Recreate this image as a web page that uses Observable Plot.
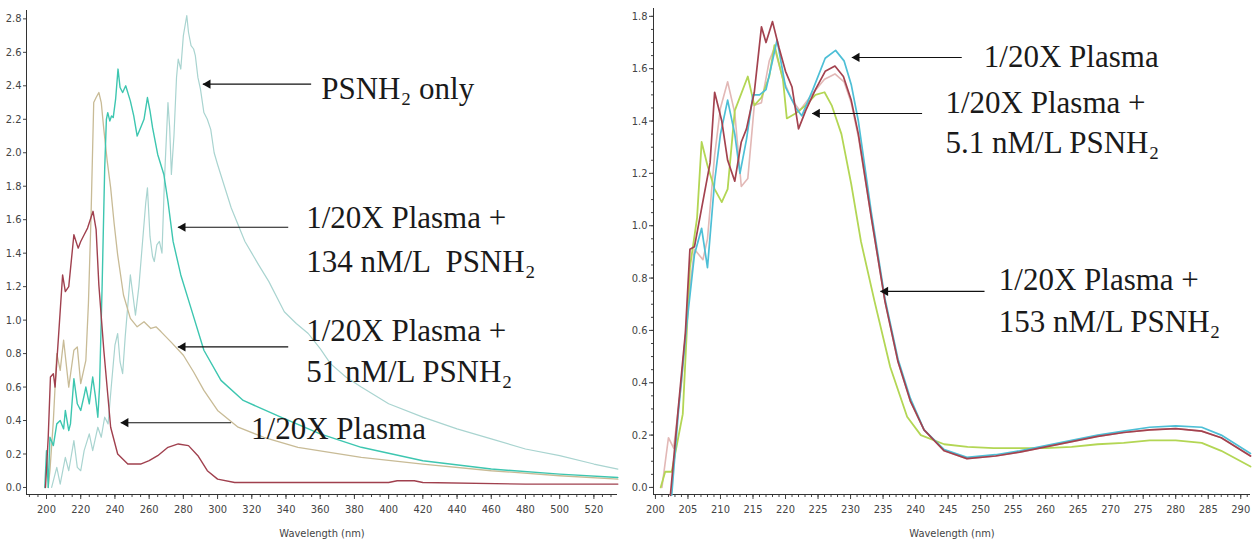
<!DOCTYPE html>
<html><head><meta charset="utf-8">
<script src="https://cdn.jsdelivr.net/npm/d3@7"></script>
<script src="https://cdn.jsdelivr.net/npm/@observablehq/plot@0.6"></script>
<style>
body{margin:0;background:#fff;}
#wrap{position:relative;width:1252px;height:546px;overflow:hidden;background:#fff;}
#left{position:absolute;left:0;top:0;}
#right{position:absolute;left:620px;top:0;}
</style></head><body><div id="wrap"><div id="left"></div><div id="right"></div></div>
<script>
// ---------- LEFT PANEL DATA (wavelength nm, absorbance) ----------
const leftPsnhOnly = [[203,0],[206,0.12],[208,0.02],[211,0.18],[213,0.1],[216,0.28],[218,0.12],[220,0.1],[222,0.22],[225,0.32],[227,0.22],[230,0.36],[232,0.3],[234,0.42],[236,0.38],[238,0.62],[240,0.85],[241.6,0.92],[243,0.75],[244.5,0.68],[246,0.9],[249,1.27],[250.5,1.15],[252,1.03],[254,1.2],[256,1.45],[258,1.7],[259,1.79],[260.5,1.5],[262,1.38],[263,1.35],[264.5,1.45],[266,1.47],[267.5,1.4],[269,1.85],[271,2.3],[272,2.15],[273,1.87],[274.5,2.1],[276,2.45],[277,2.56],[278.5,2.5],[280,2.7],[282,2.82],[283,2.72],[284.5,2.64],[286,2.62],[287,2.58],[288.5,2.45],[290,2.38],[292,2.24],[294,2.2],[296,2.14],[298,2.0],[300,1.93],[304,1.8],[308,1.67],[312,1.57],[316,1.47],[320,1.4],[324,1.33],[330,1.23],[339,1.05],[346,0.98],[353,0.92],[360,0.83],[366,0.74],[375,0.66],[384,0.6],[400,0.5],[420,0.42],[440,0.35],[460,0.29],[480,0.23],[500,0.19],[520,0.14],[534,0.11]];
const left134nM = [[199,0],[200,0.22],[201,0.0],[202,0.3],[204,0.25],[206,0.38],[208,0.4],[210,0.35],[211,0.46],[213,0.34],[214,0.38],[216,0.65],[218,0.5],[220,0.46],[222,0.55],[223,0.6],[225,0.5],[227,0.66],[228.5,0.55],[230,0.42],[231,0.6],[232.5,1.2],[234,1.9],[235,2.2],[235.8,2.24],[237,2.19],[238,2.22],[239,2.21],[240.4,2.32],[241.8,2.5],[243,2.39],[244.5,2.36],[246.3,2.4],[249,2.31],[251,2.22],[253,2.1],[255,2.15],[257,2.2],[259,2.33],[260.5,2.25],[262,2.15],[265,1.99],[268.6,1.87],[271,1.71],[274,1.47],[278.5,1.27],[284.5,1.07],[292,0.82],[302,0.64],[315,0.52],[337,0.42],[360,0.32],[384,0.24],[420,0.16],[460,0.11],[500,0.08],[534,0.06]];
const left51nM = [[201,0],[202,0.1],[204,0.4],[206,0.8],[208,0.7],[210,0.88],[213,0.6],[216,0.82],[218,0.84],[220,0.62],[223,0.76],[224.5,1.1],[226,1.61],[227.6,2.3],[229,2.33],[230.6,2.36],[232,2.3],[233.5,2.14],[235.5,1.95],[237.5,1.79],[239.5,1.58],[241.6,1.39],[245,1.15],[249,1.01],[253,0.96],[257,0.99],[261,0.95],[264,0.96],[267,0.93],[272.7,0.87],[280,0.79],[286,0.69],[292,0.58],[300,0.46],[312,0.36],[327,0.3],[347,0.24],[384,0.18],[420,0.14],[460,0.1],[500,0.07],[534,0.05]];
const leftPlasma = [[199.4,0],[201,0.3],[202.3,0.66],[204,0.68],[205,0.6],[207,0.9],[209.4,1.27],[211,1.17],[213,1.2],[216,1.51],[218.5,1.43],[220,1.47],[222,1.51],[224,1.55],[227.2,1.65],[229,1.54],[230.6,1.21],[233.5,0.82],[237.5,0.36],[241.6,0.2],[247.5,0.14],[255,0.14],[260,0.16],[265,0.19],[271,0.24],[277,0.26],[283,0.25],[288.5,0.19],[294,0.1],[300,0.05],[310,0.03],[360,0.03],[400,0.03],[405,0.04],[415,0.04],[420,0.03],[480,0.02],[534,0.02]];

// ---------- RIGHT PANEL DATA ----------
const rightMaroon = [[202.3,-0.03],[203.5,0.3],[204.6,0.59],[205.3,0.91],[206,0.92],[208.4,1.24],[209.1,1.51],[210.2,1.4],[211.1,1.25],[212.2,1.17],[213.2,1.32],[214,1.37],[215.2,1.51],[216.3,1.76],[217,1.7],[218,1.78],[219,1.68],[220,1.59],[221,1.53],[222,1.37],[223.1,1.44],[224.6,1.52],[226.1,1.59],[227.6,1.61],[228.9,1.57],[230.1,1.48],[231.2,1.35],[233.2,1.03],[235.3,0.71],[237.3,0.48],[239.2,0.33],[241.3,0.22],[244.4,0.14],[247.9,0.11],[252.3,0.12],[256,0.135],[260,0.155],[264,0.175],[268,0.195],[272,0.21],[276,0.22],[280,0.225],[284,0.215],[287,0.19],[291.5,0.12]];
const rightCyan = [[202.5,-0.03],[203.5,0.28],[204.8,0.62],[206,0.89],[207.1,0.99],[208,0.84],[209.1,1.17],[210,1.35],[211.1,1.48],[212.2,1.35],[213,1.2],[214,1.33],[215,1.5],[216,1.5],[217,1.52],[218,1.63],[218.7,1.71],[220,1.53],[221.6,1.45],[222.5,1.42],[224.2,1.52],[226.1,1.64],[227.7,1.67],[229,1.63],[230.1,1.54],[231.2,1.4],[233.2,1.05],[235.3,0.72],[237.3,0.49],[239.2,0.34],[241.3,0.22],[244.4,0.145],[247.9,0.115],[252.3,0.125],[256,0.14],[260,0.16],[264,0.18],[268,0.2],[272,0.215],[276,0.23],[280,0.235],[284,0.23],[287,0.2],[291.5,0.13]];
const rightPink = [[201,0],[202,0.19],[202.8,0.15],[204,0.4],[205,0.7],[206,0.91],[207.3,0.87],[208,0.95],[209.1,1.27],[210,1.45],[211.1,1.55],[212.2,1.43],[213.2,1.15],[214.2,1.18],[215.2,1.46],[216.3,1.47],[217.5,1.63],[218.3,1.68],[219.6,1.56],[221,1.48],[222.2,1.44],[224,1.5],[226,1.56],[227.6,1.58],[229,1.55],[230.1,1.47],[231.2,1.34],[233.2,1.03],[235.3,0.71],[237.3,0.48],[239.2,0.33],[241.3,0.22],[244.4,0.14],[247.9,0.11],[252.3,0.12],[256,0.135],[260,0.155],[264,0.175],[268,0.195],[272,0.21],[276,0.22],[280,0.225],[284,0.215],[287,0.19],[291.5,0.12]];
const rightGreen = [[200.8,0],[201.5,0.06],[202.5,0.06],[203.5,0.19],[204.2,0.28],[205.3,0.84],[206.4,1.03],[207.1,1.32],[208,1.23],[209.1,1.14],[210.2,1.09],[211.1,1.14],[212.2,1.44],[214.2,1.57],[215.2,1.46],[216.3,1.49],[217.5,1.57],[218.3,1.69],[219.6,1.56],[220.2,1.41],[221.6,1.43],[223.1,1.46],[224.6,1.5],[226,1.51],[227.1,1.46],[228.6,1.35],[230.1,1.16],[231.6,0.94],[233.7,0.71],[236.1,0.46],[238.7,0.27],[240.8,0.2],[244.4,0.165],[248,0.155],[252,0.15],[256,0.15],[260,0.15],[264,0.155],[268,0.165],[272,0.17],[276,0.18],[280,0.18],[284,0.17],[287,0.14],[291.5,0.08]];

// ---------- TICKS ----------
const leftXTicks = d3.range(200, 521, 20);
const leftXMinor = d3.range(190, 534, 5);
const leftYTicks = d3.range(0, 2.81, 0.2);
const rightXTicks = d3.range(200, 291, 5);
const rightXMinor = d3.range(200, 292, 1);
const rightYTicks = d3.range(0, 1.81, 0.2);
const rightYMinor = d3.range(0, 1.81, 0.05);

// ---------- ANNOTATIONS (data units) ----------
const leftLabels = [
  {x: 360.6, y: 2.38, text: "PSNH₂ only"},
  {x: 351.8, y: 1.61, text: "1/20X Plasma +"},
  {x: 351.8, y: 1.345, text: "134 nM/L  PSNH₂"},
  {x: 351.8, y: 0.935, text: "1/20X Plasma +"},
  {x: 351.8, y: 0.69, text: "51 nM/L PSNH₂"},
  {x: 319.6, y: 0.35, text: "1/20X Plasma"}
];
const leftArrows = [
  {x1: 354.7, x2: 291.4, y: 2.41},
  {x1: 341.3, x2: 276.8, y: 1.555},
  {x1: 341.3, x2: 276.8, y: 0.84},
  {x1: 307.9, x2: 243.4, y: 0.387}
];
const rightLabels = [
  {x: 250.5, y: 1.643, text: "1/20X Plasma"},
  {x: 244.6, y: 1.467, text: "1/20X Plasma +"},
  {x: 244.6, y: 1.314, text: "5.1 nM/L PSNH₂"},
  {x: 252.8, y: 0.791, text: "1/20X Plasma +"},
  {x: 252.8, y: 0.63, text: "153 nM/L PSNH₂"}
];
const rightArrows = [
  {x1: 247.1, x2: 230.2, y: 1.643},
  {x1: 241.0, x2: 224.1, y: 1.429},
  {x1: 250.6, x2: 234.6, y: 0.749}
];

const rows = a => a.map(([x, y]) => ({x, y}));
const tickFont = "'Liberation Sans Narrow','DejaVu Sans Condensed','Arial Narrow',sans-serif";
const serif = "'Liberation Serif','DejaVu Serif',serif";

function annotationMarks(labels, arrows) {
  return [
    Plot.link(arrows, {x1: "x1", y1: "y", x2: "x2", y2: "y", stroke: "#111", strokeWidth: 1.1}),
    Plot.dot(arrows, {x: "x2", y: "y", symbol: "triangle", rotate: -90, r: 3.4, fill: "#111", stroke: "none", dx: 5}),
    Plot.text(labels, {x: "x", y: "y", text: "text", textAnchor: "start", lineAnchor: "middle",
      fontFamily: serif, fontSize: 31, fill: "#1a1a1a"})
  ];
}

const lxDom = [188.3, 533.8], lyDom = [-0.042, 2.85];
const left = Plot.plot({
  width: 620, height: 546,
  marginLeft: 26, marginRight: 3, marginTop: 10, marginBottom: 52,
  x: {domain: lxDom}, y: {domain: lyDom},
  style: {fontFamily: tickFont, fontSize: "11px", color: "#444", background: "#fff", overflow: "visible"},
  marks: [
    Plot.axisX({ticks: leftXMinor, tickSize: 3, tickFormat: () => "", label: null}),
    Plot.axisX({ticks: leftXTicks, tickSize: 5, tickPadding: 6, tickFormat: d => String(d),
      label: "Wavelength (nm)", labelAnchor: "center", labelOffset: 42, labelArrow: "none"}),
    Plot.axisY({ticks: leftYTicks, tickSize: 3, tickPadding: 2, tickFormat: d => d.toFixed(1), label: null}),
    Plot.ruleX([lxDom[0]], {stroke: "#333"}),
    Plot.ruleY([lyDom[0]], {stroke: "#333"}),
    Plot.line(rows(leftPsnhOnly), {x: "x", y: "y", stroke: "#a9d4d0", strokeWidth: 1.2}),
    Plot.line(rows(left51nM), {x: "x", y: "y", stroke: "#c8bb96", strokeWidth: 1.3}),
    Plot.line(rows(left134nM), {x: "x", y: "y", stroke: "#3dc6b0", strokeWidth: 1.4}),
    Plot.line(rows(leftPlasma), {x: "x", y: "y", stroke: "#a0404e", strokeWidth: 1.4}),
    ...annotationMarks(leftLabels, leftArrows)
  ]
});
document.getElementById("left").append(left);

const rxDom = [199.7, 291.5], ryDom = [-0.027, 1.83];
const right = Plot.plot({
  width: 632, height: 546,
  marginLeft: 33, marginRight: 2, marginTop: 8, marginBottom: 52,
  x: {domain: rxDom}, y: {domain: ryDom},
  style: {fontFamily: tickFont, fontSize: "11px", color: "#444", background: "#fff", overflow: "visible"},
  marks: [
    Plot.axisX({ticks: rightXMinor, tickSize: 3, tickFormat: () => "", label: null}),
    Plot.axisX({ticks: rightXTicks, tickSize: 5, tickPadding: 6, tickFormat: d => String(d),
      label: "Wavelength (nm)", labelAnchor: "center", labelOffset: 42, labelArrow: "none"}),
    Plot.axisY({ticks: rightYMinor, tickSize: 2, tickFormat: () => "", label: null}),
    Plot.axisY({ticks: rightYTicks, tickSize: 4, tickPadding: 2, tickFormat: d => d.toFixed(1), label: null}),
    Plot.ruleX([rxDom[0]], {stroke: "#333"}),
    Plot.ruleY([ryDom[0]], {stroke: "#333"}),
    Plot.line(rows(rightPink), {x: "x", y: "y", stroke: "#e2b8b6", strokeWidth: 1.6}),
    Plot.line(rows(rightGreen), {x: "x", y: "y", stroke: "#b3d654", strokeWidth: 1.8}),
    Plot.line(rows(rightCyan), {x: "x", y: "y", stroke: "#4dbfd6", strokeWidth: 1.7}),
    Plot.line(rows(rightMaroon), {x: "x", y: "y", stroke: "#a3424f", strokeWidth: 1.7}),
    ...annotationMarks(rightLabels, rightArrows)
  ]
});
document.getElementById("right").append(right);
</script>
</body></html>
